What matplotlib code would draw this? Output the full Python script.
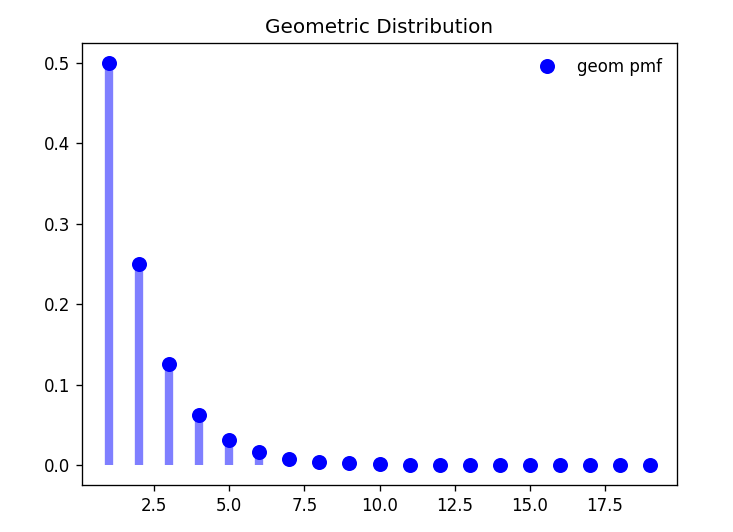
import matplotlib
matplotlib.use("Agg")
from matplotlib import pyplot as plt

# valeurs de la pmf (p = 0.5), k = 1..19
k = [1, 2, 3, 4, 5, 6, 7, 8, 9, 10, 11, 12, 13, 14, 15, 16, 17, 18, 19]
pmf = [0.5, 0.25, 0.125, 0.0625, 0.03125, 0.015625, 0.0078125,
       0.00390625, 0.001953125, 0.0009765625, 0.00048828125,
       0.000244140625, 0.0001220703125, 6.103515625e-05,
       3.0517578125e-05, 1.52587890625e-05, 7.62939453125e-06,
       3.814697265625e-06, 1.9073486328125e-06]

fig = plt.figure(figsize=(733 / 120, 532 / 120), dpi=120)
ax = fig.add_axes([82 / 733, 47 / 532, 595 / 733, 442 / 532])

ax.plot(k, pmf, 'bo', ms=8, label='geom pmf')
ax.vlines(k, 0, pmf, colors='b', lw=5, alpha=0.5)
ax.set_title("Geometric Distribution")
ax.legend(loc='best', frameon=False)

fig.savefig("out.png", dpi=120)
